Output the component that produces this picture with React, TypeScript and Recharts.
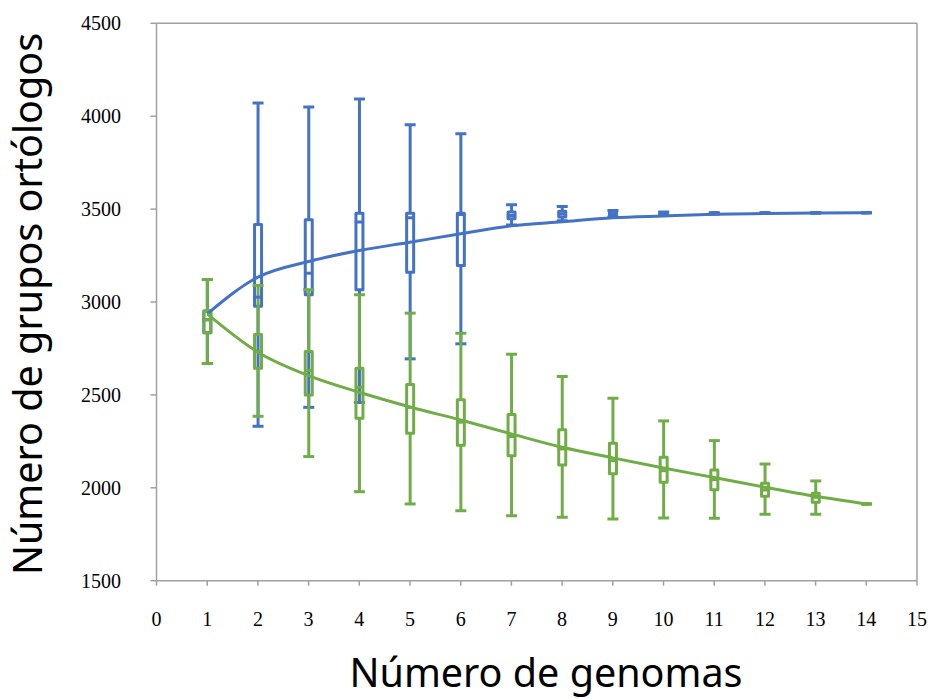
import React from 'react';
import { ComposedChart, XAxis, YAxis, Bar, Line, Scatter, ReferenceLine } from 'recharts';

const genomes = [1, 2, 3, 4, 5, 6, 7, 8, 9, 10, 11, 12, 13, 14];
const xTicks = [0, 1, 2, 3, 4, 5, 6, 7, 8, 9, 10, 11, 12, 13, 14, 15];
const yTicks = [1500, 2000, 2500, 3000, 3500, 4000, 4500];

// Blue series (increasing)
const blueMin = [2669, 2331, 2433, 2459, 2694, 2775, 3415, 3437, 3458, 3468, 3474, 3477, 3479, 3480];
const blueQ1 = [2834, 2977, 3039, 3066, 3160, 3197, 3448, 3457, 3462, 3470, 3475, 3478, 3479, 3480];
const blueMed = [2905, 3026, 3155, 3430, 3453, 3471, 3466, 3473, 3475, 3476, 3478, 3479, 3480, 3480];
const blueQ3 = [2952, 3417, 3443, 3478, 3478, 3478, 3484, 3489, 3488, 3482, 3480, 3480, 3480, 3480];
const blueMax = [3121, 4071, 4049, 4093, 3954, 3906, 3523, 3514, 3492, 3484, 3481, 3481, 3481, 3480];
const blueMean = [2936, 3134, 3218, 3277, 3322, 3367, 3410, 3432, 3453, 3463, 3472, 3476, 3479, 3480];

// Green series (decreasing)
const greenMin = [2669, 2385, 2168, 1979, 1913, 1877, 1850, 1841, 1832, 1838, 1836, 1857, 1857, 1913];
const greenQ1 = [2834, 2644, 2500, 2374, 2293, 2229, 2172, 2123, 2075, 2030, 1990, 1954, 1922, 1913];
const greenMed = [2905, 2735, 2631, 2541, 2433, 2353, 2276, 2209, 2146, 2092, 2044, 1988, 1949, 1913];
const greenQ3 = [2952, 2825, 2733, 2644, 2556, 2474, 2394, 2313, 2240, 2164, 2096, 2025, 1970, 1913];
const greenMax = [3121, 3089, 3066, 3039, 2940, 2832, 2719, 2599, 2482, 2360, 2254, 2128, 2037, 1913];
const greenMean = [2936, 2730, 2604, 2514, 2435, 2365, 2290, 2218, 2161, 2107, 2055, 2003, 1954, 1913];

const BLUE = '#4472C4';
const GREEN = '#70AD47';
const AXIS = '#a0a0a0';

const data = genomes.map((x, i) => ({
  x,
  bLow: [blueMin[i], blueQ1[i]],
  bBox: [blueQ1[i], blueQ3[i]],
  bHigh: [blueQ3[i], blueMax[i]],
  bMed: blueMed[i],
  bMean: blueMean[i],
  gLow: [greenMin[i], greenQ1[i]],
  gBox: [greenQ1[i], greenQ3[i]],
  gHigh: [greenQ3[i], greenMax[i]],
  gMed: greenMed[i],
  gMean: greenMean[i],
}));

const SW = 3;

const norm = (p: any) => {
  const top = Math.min(p.y, p.y + p.height);
  const bottom = Math.max(p.y, p.y + p.height);
  return { top, bottom, x: p.x, w: p.width, cx: p.x + p.width / 2 };
};

const lowWhisker = (color: string) => (p: any) => {
  const { top, bottom, x, w, cx } = norm(p);
  return (
    <g>
      <line x1={cx} x2={cx} y1={top} y2={bottom} stroke={color} strokeWidth={SW} />
      <line x1={x} x2={x + w} y1={bottom} y2={bottom} stroke={color} strokeWidth={SW} />
    </g>
  );
};

const highWhisker = (color: string) => (p: any) => {
  const { top, bottom, x, w, cx } = norm(p);
  return (
    <g>
      <line x1={cx} x2={cx} y1={top} y2={bottom} stroke={color} strokeWidth={SW} />
      <line x1={x} x2={x + w} y1={top} y2={top} stroke={color} strokeWidth={SW} />
    </g>
  );
};

const boxShape = (color: string) => (p: any) => {
  const { top, bottom, x, w } = norm(p);
  return (
    <path
      d={`M${x},${top} H${x + w} V${bottom} H${x} Z`}
      fill="none"
      stroke={color}
      strokeWidth={SW}
      strokeLinejoin="round"
    />
  );
};

const medianShape = (color: string) => (p: any) => {
  if (p.cx == null || p.cy == null) return <g />;
  return <line x1={p.cx - 4.5} x2={p.cx + 2.8} y1={p.cy} y2={p.cy} stroke={color} strokeWidth={SW} />;
};

const YTick = (props: any) => {
  const { x, y, payload } = props;
  return (
    <text
      x={x}
      y={y}
      textAnchor="end"
      dominantBaseline="central"
      fontFamily="'Liberation Serif', 'Times New Roman', serif"
      fontSize={20}
      fill="#000"
    >
      {payload.value}
    </text>
  );
};

const XTick = (props: any) => {
  const { x, y, payload } = props;
  return (
    <text
      x={x}
      y={y}
      textAnchor="middle"
      dominantBaseline="central"
      fontFamily="'Liberation Serif', 'Times New Roman', serif"
      fontSize={20}
      fill="#000"
    >
      {payload.value}
    </text>
  );
};

const YTitle = () => (
  <text
    transform="translate(42,304) rotate(-90)"
    textAnchor="middle"
    fontFamily="'Noto Sans', 'Open Sans', sans-serif"
    fontSize={39.5}
    fill="#000"
  >
    Número de grupos ortólogos
  </text>
);

const XTitle = () => (
  <text
    x={546}
    y={687}
    textAnchor="middle"
    fontFamily="'Noto Sans', 'Open Sans', sans-serif"
    fontSize={39.5}
    fill="#000"
  >
    Número de genomas
  </text>
);

const hiddenAxis = (id: string) => (
  <XAxis key={id} xAxisId={id} dataKey="x" type="number" domain={[0, 15]} hide height={0} allowDataOverflow />
);

export default function App() {
  return (
    <div style={{ position: 'absolute', left: 0, top: 0, background: '#fff' }}>
      <ComposedChart
        width={931}
        height={699}
        data={data}
        margin={{ top: 23.3, right: 14, bottom: 58.3, left: 96.5 }}
      >
        <XAxis
          xAxisId="a"
          dataKey="x"
          type="number"
          domain={[0, 15]}
          ticks={xTicks}
          interval={0}
          allowDataOverflow
          height={60}
          tickSize={5}
          tickMargin={33.6}
          tick={<XTick />}
          axisLine={{ stroke: AXIS, strokeWidth: 1.5 }}
          tickLine={{ stroke: AXIS, strokeWidth: 1.5 }}
          label={<XTitle />}
        />
        {hiddenAxis('zb1')}
        {hiddenAxis('zb2')}
        {hiddenAxis('zb3')}
        {hiddenAxis('zg1')}
        {hiddenAxis('zg2')}
        {hiddenAxis('zg3')}
        <YAxis
          type="number"
          domain={[1500, 4500]}
          ticks={yTicks}
          interval={0}
          allowDataOverflow
          width={60}
          tickSize={6}
          tickMargin={29.5}
          tick={<YTick />}
          axisLine={{ stroke: AXIS, strokeWidth: 1.5 }}
          tickLine={{ stroke: AXIS, strokeWidth: 1.5 }}
          label={<YTitle />}
        />
        <ReferenceLine xAxisId="a" y={4500} stroke={AXIS} strokeWidth={1.5} ifOverflow="extendDomain" />
        <ReferenceLine xAxisId="a" x={15} stroke={AXIS} strokeWidth={1.5} ifOverflow="extendDomain" />

        <Bar xAxisId="zb1" dataKey="bLow" barSize={11} shape={lowWhisker(BLUE)} isAnimationActive={false} legendType="none" />
        <Bar xAxisId="zb2" dataKey="bHigh" barSize={11} shape={highWhisker(BLUE)} isAnimationActive={false} legendType="none" />
        <Bar xAxisId="zb3" dataKey="bBox" barSize={7} shape={boxShape(BLUE)} isAnimationActive={false} legendType="none" />
        <Scatter xAxisId="a" dataKey="bMed" shape={medianShape(BLUE)} isAnimationActive={false} legendType="none" />

        <Bar xAxisId="zg1" dataKey="gLow" barSize={11} shape={lowWhisker(GREEN)} isAnimationActive={false} legendType="none" />
        <Bar xAxisId="zg2" dataKey="gHigh" barSize={11} shape={highWhisker(GREEN)} isAnimationActive={false} legendType="none" />
        <Bar xAxisId="zg3" dataKey="gBox" barSize={7} shape={boxShape(GREEN)} isAnimationActive={false} legendType="none" />
        <Scatter xAxisId="a" dataKey="gMed" shape={medianShape(GREEN)} isAnimationActive={false} legendType="none" />

        <Line xAxisId="a" dataKey="bMean" type="monotone" stroke={BLUE} strokeWidth={3} dot={false} activeDot={false} isAnimationActive={false} legendType="none" />
        <Line xAxisId="a" dataKey="gMean" type="monotone" stroke={GREEN} strokeWidth={3} dot={false} activeDot={false} isAnimationActive={false} legendType="none" />
      </ComposedChart>
    </div>
  );
}
